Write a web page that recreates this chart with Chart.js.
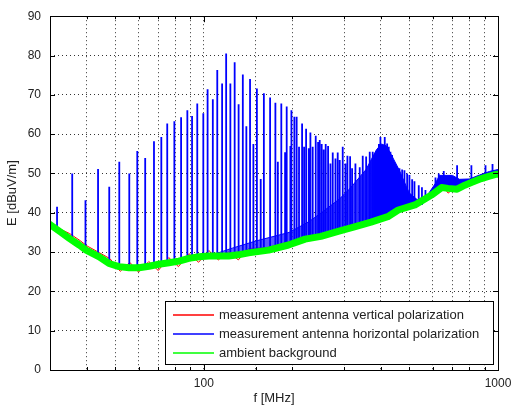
<!DOCTYPE html>
<html>
<head>
<meta charset="utf-8">
<script src="https://cdn.jsdelivr.net/npm/chart.js@4/dist/chart.umd.min.js"></script>
<style>
  html, body { margin: 0; padding: 0; background: #fff; }
</style>
</head>
<body>
<canvas id="emiChart" width="512" height="409"></canvas>
<script>
// ambient background (green band), read along its centre
const ambientFreq  = [30, 32.3, 34.9, 37.7, 39.8, 44.1, 47.6, 51.5, 55.7, 60.2, 65.1, 70.3, 76.1, 82.3, 88.9, 96.2,
                      104, 112, 121.5, 131, 142, 166, 194, 221, 250, 288, 325, 370, 422, 458, 522, 594, 643, 677,
                      726, 771, 819, 878, 935, 990, 1000];
const ambientLevel = [37.0, 35.3, 33.5, 31.8, 30.5, 28.8, 27.1, 26.3, 26.0, 26.0, 26.4, 26.9, 27.3, 27.7, 28.4, 28.8,
                      29.0, 29.0, 29.0, 29.3, 29.8, 30.5, 31.8, 33.3, 34.0, 35.3, 36.4, 37.6, 39.0, 40.7, 42.0, 44.5, 46.4, 46.2,
                      46.0, 47.0, 47.8, 48.7, 49.3, 49.8, 49.8];

// vertical polarization (red), mostly hidden under the ambient band
const verticalFreq  = [30, 33, 35, 38, 40, 44, 48, 52, 56, 60, 65, 70, 76, 82, 89, 96, 104, 112, 121, 131, 142,
                       166, 194, 221, 250, 288, 325, 370, 422, 458, 522, 594, 643, 677, 726, 771, 819, 878, 935, 990];
const verticalLevel = [36.4, 35.6, 34.7, 32.9, 31.6, 29.9, 28.3, 25.1, 27.4, 24.9, 27.6, 25.3, 28.6, 26.3, 29.6, 27.4,
                       30.4, 28.0, 30.1, 28.0, 30.9, 31.2, 32.6, 33.9, 34.6, 36.1, 37.2, 38.1, 39.7, 41.2, 42.6, 44.8, 47.2,
                       45.0, 46.9, 48.2, 48.7, 49.6, 50.1, 50.8];

// horizontal polarization (blue): narrow emission lines
const spikeFreq = [31.7, 35.7, 39.6, 43.7, 47.7, 51.6, 55.8, 59.4, 63.2, 67.7, 71.7, 75.1, 79.4, 83.7, 87.9, 91.2, 95.0,
                   99.6, 103, 107.3, 111.1, 115.4, 119.1, 123.1, 127.3, 131.3, 135.7, 139.5, 143.6, 147.4, 151.5, 156.1,
                   160, 168, 175.1, 178.5, 183.4, 188.9, 191.3, 196.9, 198.5, 203.1, 206.8, 210.7, 215.8, 219.2, 222.7,
                   227.3, 230.3, 234.5, 240.1, 244.6, 247.7, 251.6, 255.6, 259.6, 264.5, 269.4, 274.3, 280.2, 285.2,
                   289.7, 296.6, 302.9, 307.7, 314.3, 319.2, 327.6, 338.8, 346.9, 356.3, 366.4, 375.1, 383.1, 393.7,
                   398.4, 404.7, 412.1, 419.9, 425.2, 430.9, 436.6, 445.7, 454.1, 462.4, 472.2, 480.8, 491.1, 500,
                   510.7, 520, 537.8, 551.4, 566.7, 613, 629, 640, 654, 668, 687, 700, 726, 812, 907, 958];
const spikeTop  = [41.5, 50.0, 43.2, 51.1, 46.6, 53.0, 50.0, 55.7, 53.9, 58.2, 59.3, 62.7, 63.3, 64.3, 66.1, 64.6, 67.8,
                   65.3, 71.4, 68.9, 76.3, 72.9, 80.5, 72.9, 78.3, 67.6, 75.2, 62.0, 74.0, 57.5, 71.6, 48.6,
                   70.4, 69.3, 68.0, 53.0, 67.8, 55.4, 67.0, 57.0, 66.1, 64.4, 64.4, 56.8, 62.7, 56.8, 61.4,
                   56.4, 60.4, 56.8, 59.6, 58.0, 58.5, 57.5, 56.1, 57.5, 57.0, 52.5, 55.3, 53.8, 55.3,
                   53.4, 56.8, 52.5, 54.5, 54.4, 51.3, 52.5, 51.6, 54.5, 54.3, 55.5, 55.5, 55.1, 57.5,
                   59.3, 57.0, 59.3, 57.6, 56.8, 55.5, 54.7, 52.5, 51.6, 51.3, 51.0, 50.8, 50.0, 49.6,
                   48.5, 48.0, 47.0, 46.5, 45.8, 49.0, 50.0, 48.5, 50.6, 49.0, 49.5, 49.0, 52.1, 52.1, 52.1, 52.4];

// upper edge of the densely packed lines, filled down to the ambient band
const denseFreq  = [104, 125, 150, 195, 228.5, 253, 289, 312.5, 356, 386, 401.5, 417.6, 437.7, 462, 488.5, 500, 532,
                    576, 613, 632, 700, 740, 800, 865, 935, 1000];
const denseLevel = [29.0, 31.0, 32.8, 35.0, 37.8, 40.2, 43.5, 46.0, 51.0, 56.0, 57.5, 57.0, 54.2, 50.8, 46.6, 45.0, 43.3,
                    44.5, 47.5, 49.5, 49.5, 48.5, 48.6, 49.6, 50.5, 51.0];

const xTickLabels = [100, 1000];
const legendLabels = ['measurement antenna vertical polarization',
                      'measurement antenna horizontal polarization',
                      'ambient background'];
const legendColors = ['#ff0000', '#0000ff', '#00ff00'];

function toPoints(xs, ys) {
    return xs.map((x, i) => ({ x: x, y: ys[i] }));
}

// foot of each line sits on the nearest ambient reading
function ambientNear(f) {
    let best = 0;
    ambientFreq.forEach((v, i) => {
        if (Math.abs(Math.log(v / f)) < Math.abs(Math.log(ambientFreq[best] / f))) best = i;
    });
    return ambientLevel[best];
}

const spikePoints = [];
spikeFreq.forEach((f, i) => {
    spikePoints.push({ x: f, y: ambientNear(f) }, { x: f, y: spikeTop[i] }, { x: f, y: null });
});

// dense area looks lighter where the lines are further apart
function denseFill(context) {
    const chart = context.chart;
    const area = chart.chartArea;
    if (!area) return '#0000ff';
    const x = chart.scales.x;
    const g = chart.ctx.createLinearGradient(area.left, 0, area.right, 0);
    const stop = f => (x.getPixelForValue(f) - area.left) / (area.right - area.left);
    g.addColorStop(stop(104), 'rgba(40,40,255,0.7)');
    g.addColorStop(stop(320), 'rgba(20,20,255,0.8)');
    g.addColorStop(stop(380), 'rgba(0,0,255,1)');
    g.addColorStop(1, 'rgba(0,0,255,1)');
    return g;
}

const framePlugin = {
    id: 'frame',
    afterDatasetsDraw(chart) {
        const { ctx, chartArea: a, scales } = chart;
        ctx.save();
        // inward tick marks, matlab style
        ctx.strokeStyle = '#000';
        ctx.lineWidth = 1;
        ctx.setLineDash([]);
        ctx.beginPath();
        scales.x.ticks.forEach(t => {
            const px = Math.round(scales.x.getPixelForValue(t.value)) + 0.5;
            const len = xTickLabels.includes(t.value) ? 6 : 3;
            ctx.moveTo(px, a.bottom); ctx.lineTo(px, a.bottom - len);
            ctx.moveTo(px, a.top); ctx.lineTo(px, a.top + len);
        });
        scales.y.ticks.forEach(t => {
            const py = Math.round(scales.y.getPixelForValue(t.value)) + 0.5;
            ctx.moveTo(a.left, py); ctx.lineTo(a.left + 5, py);
            ctx.moveTo(a.right, py); ctx.lineTo(a.right - 5, py);
        });
        ctx.stroke();
        ctx.strokeRect(Math.round(a.left) + 0.5, Math.round(a.top) + 0.5,
                       Math.round(a.right - a.left), Math.round(a.bottom - a.top));

        // legend box in the lower right corner
        const lx = 165.5, ly = 301.5, lw = 328, lh = 63;
        ctx.fillStyle = '#fff';
        ctx.fillRect(lx, ly, lw, lh);
        ctx.strokeRect(lx, ly, lw, lh);
        ctx.font = '13px "Liberation Sans", Arial, sans-serif';
        ctx.textBaseline = 'middle';
        legendLabels.forEach((label, i) => {
            const y = 315 + i * 19;
            ctx.beginPath();
            ctx.strokeStyle = legendColors[i];
            ctx.lineWidth = 1.5;
            ctx.moveTo(173, y);
            ctx.lineTo(214, y);
            ctx.stroke();
            ctx.fillStyle = '#222';
            ctx.fillText(label, 219, y);
        });
        ctx.restore();
    }
};

const ctx = document.getElementById('emiChart').getContext('2d');
Chart.defaults.font.family = '"Liberation Sans", Arial, sans-serif';
Chart.defaults.font.size = 12;
Chart.defaults.color = '#222';

new Chart(ctx, {
    type: 'line',
    data: {
        datasets: [{
            label: legendLabels[0],
            data: toPoints(verticalFreq, verticalLevel),
            borderColor: '#ff0000',
            borderWidth: 1,
            order: 3,
        }, {
            label: legendLabels[1],
            data: spikePoints,
            borderColor: '#0000ff',
            borderWidth: 1.8,
            spanGaps: false,
            order: 1,
        }, {
            label: legendLabels[2],
            data: toPoints(ambientFreq, ambientLevel),
            borderColor: '#00ff00',
            borderWidth: 7,
            borderJoinStyle: 'round',
            borderCapStyle: 'round',
            order: 0,
        }, {
            label: 'dense lines',
            data: toPoints(denseFreq, denseLevel),
            borderColor: '#0000ff',
            backgroundColor: denseFill,
            borderWidth: 1,
            fill: 2,
            order: 2,
        }]
    },
    options: {
        responsive: false,
        animation: false,
        layout: { padding: { left: 4, right: 14, top: 16, bottom: 2 } },
        elements: { point: { radius: 0 }, line: { tension: 0 } },
        plugins: {
            legend: { display: false },
            tooltip: { enabled: false },
        },
        scales: {
            x: {
                type: 'logarithmic',
                min: 30,
                max: 1000,
                afterFit: scale => { scale.height = 37; scale.paddingRight = 0; scale.paddingLeft = 0; },
                grid: { color: 'rgba(0,0,0,0.8)', drawTicks: false },
                border: { display: false, dash: [1, 3] },
                ticks: {
                    autoSkip: false,
                    maxRotation: 0,
                    padding: 6,
                    callback: value => xTickLabels.includes(value) ? String(value) : '',
                },
                title: { display: true, text: 'f [MHz]', font: { size: 13 }, padding: { top: 0, bottom: 1 } },
            },
            y: {
                min: 0,
                max: 90,
                afterFit: scale => { scale.width = 46; },
                grid: { color: 'rgba(0,0,0,0.8)', drawTicks: false },
                border: { display: false, dash: [1, 3] },
                ticks: { stepSize: 10, padding: 9 },
                title: { display: true, text: 'E [dBuV/m]', font: { size: 13 }, padding: { top: 1, bottom: 0 } },
            }
        }
    },
    plugins: [framePlugin]
});
</script>
</body>
</html>
